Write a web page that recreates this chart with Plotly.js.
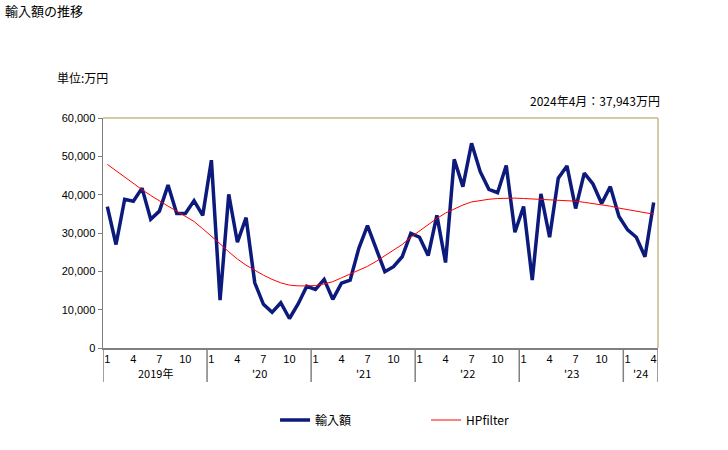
<!DOCTYPE html>
<html>
<head>
<meta charset="utf-8">
<script src="https://cdn.plot.ly/plotly-3.0.1.min.js"></script>
<style>html,body{margin:0;padding:0;background:#fff;}#chart{width:728px;height:450px;}</style>
</head>
<body>
<div id="chart"></div>
<script>
const categories = [
  "2019-01","2019-02","2019-03","2019-04","2019-05","2019-06","2019-07","2019-08","2019-09","2019-10","2019-11","2019-12",
  "2020-01","2020-02","2020-03","2020-04","2020-05","2020-06","2020-07","2020-08","2020-09","2020-10","2020-11","2020-12",
  "2021-01","2021-02","2021-03","2021-04","2021-05","2021-06","2021-07","2021-08","2021-09","2021-10","2021-11","2021-12",
  "2022-01","2022-02","2022-03","2022-04","2022-05","2022-06","2022-07","2022-08","2022-09","2022-10","2022-11","2022-12",
  "2023-01","2023-02","2023-03","2023-04","2023-05","2023-06","2023-07","2023-08","2023-09","2023-10","2023-11","2023-12",
  "2024-01","2024-02","2024-03","2024-04"
];
const importValues = [
  36900, 27000, 38800, 38300, 41700, 33600, 35700, 42500, 35100, 35100, 38400, 34600,
  49000, 12500, 40100, 27600, 34000, 17000, 11400, 9300, 11800, 7700, 11500, 16100,
  15300, 17900, 12700, 16900, 17700, 26000, 31900, 26200, 19900, 21200, 23800, 29900,
  28900, 24100, 34600, 22300, 49200, 42100, 53400, 46000, 41400, 40500, 47600, 30200,
  36900, 17700, 40200, 28900, 44300, 47500, 36400, 45600, 42800, 37700, 42100, 34300,
  30800, 28900, 23800, 37943
];
const hpFilter = [
  47900, 46200, 44500, 42800, 41300, 39800, 38300, 37000, 35700, 34300, 33000, 31100,
  29200, 27200, 25100, 23200, 21600, 20200, 19000, 17900, 17000, 16400, 16200, 16200,
  16300, 16700, 17300, 18300, 19300, 20300, 21300, 22600, 24000, 25500, 27000, 28900,
  30600, 32300, 33800, 35200, 36300, 37300, 38100, 38500, 38800, 39000, 39100, 39100,
  39000, 38900, 38800, 38700, 38600, 38400, 38300, 38000, 37700, 37400, 37000, 36500,
  36100, 35700, 35300, 34900
];
const monthTickVals = [
  "2019-01","2019-04","2019-07","2019-10","2020-01","2020-04","2020-07","2020-10",
  "2021-01","2021-04","2021-07","2021-10","2022-01","2022-04","2022-07","2022-10",
  "2023-01","2023-04","2023-07","2023-10","2024-01","2024-04"
];
const monthTickText = ["1","4","7","10","1","4","7","10","1","4","7","10","1","4","7","10","1","4","7","10","1","4"];
const yearLabels = ["2019年","'20","'21","'22","'23","'24"];
const yearCenters = [5.5, 17.5, 29.5, 41.5, 53.5, 61.5];
const yearBounds = [-0.5, 11.5, 23.5, 35.5, 47.5, 59.5, 63.5];

const FONT = "Liberation Sans, Arial, Noto Sans CJK JP, sans-serif";
const JFONT = "Noto Sans CJK JP, sans-serif";

const traces = [
  {x: categories, y: importValues, type: "scatter", mode: "lines", name: "輸入額",
   line: {color: "#0c1a7c", width: 3.5}},
  {x: categories, y: hpFilter, type: "scatter", mode: "lines", name: "HPfilter",
   line: {color: "#ff0000", width: 1}}
];

const shapes = yearBounds.map(b => ({
  type: "line", xref: "x", yref: "paper", x0: b, x1: b, y0: 0, y1: -0.148,
  line: {color: "#808080", width: 1.5}
}));
shapes.push({type: "line", xref: "paper", yref: "paper", x0: 0, x1: 1, y0: 1, y1: 1, line: {color: "#c8b888", width: 1.5}});
shapes.push({type: "line", xref: "paper", yref: "paper", x0: 1, x1: 1, y0: 0, y1: 1, line: {color: "#c8b888", width: 1.5}});

const annotations = yearLabels.map((t, i) => ({
  text: t, xref: "x", yref: "paper", x: yearCenters[i], y: -0.109,
  xanchor: "center", yanchor: "middle", showarrow: false,
  font: {family: JFONT, size: 11, color: "#000"}
}));
annotations.push({text: "単位:万円", xref: "paper", yref: "paper", x: -0.0865, y: 1.178,
  xanchor: "left", yanchor: "middle", showarrow: false, font: {family: JFONT, size: 12, color: "#000"}});
annotations.push({text: "2024年4月：37,943万円", xref: "paper", yref: "paper", x: 1.007, y: 1.078,
  xanchor: "right", yanchor: "middle", showarrow: false, font: {family: JFONT, size: 12, color: "#000"}});

const layout = {
  width: 728, height: 450,
  margin: {l: 103, r: 70, t: 118, b: 102},
  paper_bgcolor: "#fff", plot_bgcolor: "#fff",
  title: {text: "輸入額の推移", x: 5/728, xanchor: "left", xref: "container", y: 1 - 11/450, yref: "container", yanchor: "middle",
          font: {family: JFONT, size: 13, color: "#000"}},
  xaxis: {type: "category", range: [-0.5, 63.5], tickmode: "array", tickvals: monthTickVals, ticktext: monthTickText,
          ticks: "", showgrid: false, zeroline: false, showline: true, linecolor: "#808080", linewidth: 1.5,
          tickfont: {family: FONT, size: 11, color: "#000"}, tickangle: 0, fixedrange: true},
  yaxis: {range: [0, 60000], dtick: 10000, tickformat: ",d", ticks: "outside", ticklen: 4, tickcolor: "#808080",
          showgrid: false, zeroline: false, showline: true, linecolor: "#808080", linewidth: 1.5,
          tickfont: {family: FONT, size: 11, color: "#000"}, fixedrange: true},
  showlegend: true,
  legend: {orientation: "h", x: 0.31, xanchor: "left", y: -0.25, yanchor: "top", entrywidth: 106, entrywidthmode: "pixels",
           font: {family: JFONT, size: 12, color: "#000"}, bgcolor: "rgba(0,0,0,0)"},
  shapes: shapes,
  annotations: annotations
};

Plotly.newPlot("chart", traces, layout, {displayModeBar: false, staticPlot: true});
</script>
</body>
</html>
